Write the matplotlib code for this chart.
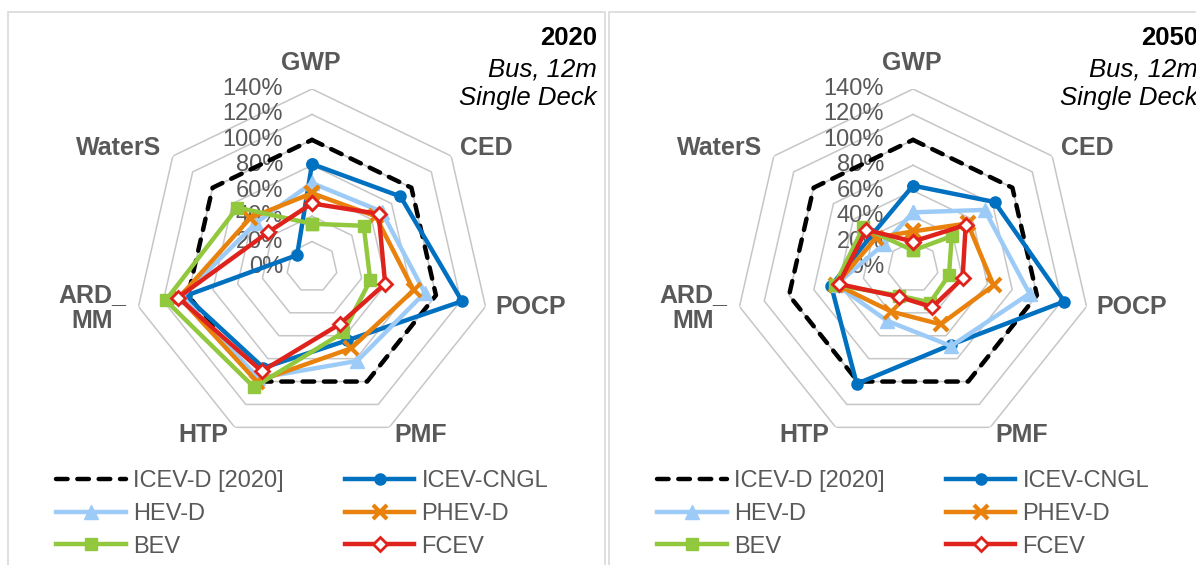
import numpy as np
import matplotlib
matplotlib.use('Agg')
import matplotlib.pyplot as plt
from matplotlib.patches import Rectangle

plt.rcParams['font.family'] = ['Liberation Sans', 'DejaVu Sans']

categories = ['GWP', 'CED', 'POCP', 'PMF', 'HTP', 'ARD_\nMM', 'WaterS']
series_names = ['ICEV-D [2020]', 'ICEV-CNGL', 'HEV-D', 'PHEV-D', 'BEV', 'FCEV']
ring_values = [0.0, 0.2, 0.4, 0.6, 0.8, 1.0, 1.2, 1.4]
ring_labels = ['0%', '20%', '40%', '60%', '80%', '100%', '120%', '140%']

# 2020, relative to ICEV-D [2020]
icev_d_2020 = [1.00, 1.00, 1.00, 1.00, 1.00, 1.00, 1.00]
icev_cngl_2020 = [0.81, 0.89, 1.21, 0.64, 0.88, 1.02, 0.15]
hev_d_2020 = [0.66, 0.70, 0.91, 0.82, 0.97, 1.05, 0.56]
phev_d_2020 = [0.58, 0.64, 0.82, 0.71, 1.00, 1.07, 0.62]
bev_2020 = [0.34, 0.52, 0.47, 0.57, 1.05, 1.18, 0.75]
fcev_2020 = [0.50, 0.67, 0.59, 0.50, 0.91, 1.08, 0.44]

# 2050
icev_d_ref_2050 = [1.00, 1.00, 1.00, 1.00, 1.00, 1.00, 1.00]
icev_cngl_2050 = [0.64, 0.82, 1.22, 0.68, 1.02, 0.66, 0.41]
hev_d_2050 = [0.43, 0.72, 0.94, 0.69, 0.47, 0.62, 0.29]
phev_d_2050 = [0.28, 0.55, 0.65, 0.50, 0.39, 0.62, 0.37]
bev_2050 = [0.13, 0.39, 0.29, 0.31, 0.25, 0.63, 0.50]
fcev_2050 = [0.20, 0.53, 0.40, 0.35, 0.26, 0.60, 0.47]

colors = ['black', '#0070C0', '#9DCBF7', '#E8820C', '#92C83E', '#E0221C']
styles = [
    dict(ls=(0, (2.6, 2.2)), dash_capstyle='round', marker=None),
    dict(marker='o', ms=8),
    dict(marker='^', ms=10),
    dict(marker='x', ms=10, mew=3),
    dict(marker='s', ms=9),
    dict(marker='D', ms=7, mfc='white', mew=2),
]

W, H = 1196, 565
R = 178  # radius of the 140% ring, pixels

# label offsets from the chart centre, pixels
label_offsets = [(-1, 204), (174, 119), (219, -40), (109, -168),
                 (-109, -168), (-220, -41), (-193, 119)]


def draw_panel(fig, cx, cy, data, year, text_right):
    ax = fig.add_axes([(cx - R) / W, (H - cy - R) / H, 2 * R / W, 2 * R / H],
                      projection='polar')
    ax.set_theta_offset(np.pi / 2)
    ax.set_theta_direction(-1)
    ax.set_ylim(0, 1.4)
    ax.grid(False)
    ax.set_xticks([])
    ax.set_yticks([])
    ax.spines['polar'].set_visible(False)
    ax.patch.set_visible(False)

    angles = np.linspace(0, 2 * np.pi, len(categories), endpoint=False)
    closed = np.append(angles, angles[0])

    for r in ring_values[1:]:
        ax.plot(closed, [r] * len(closed), color='#c6c6c6', lw=1.1, zorder=1)

    for r, lab in zip(ring_values, ring_labels):
        ax.annotate(lab, xy=(0, r), xytext=(-29, 0), textcoords='offset pixels',
                    ha='right', va='center', fontsize=17, color='#595959',
                    annotation_clip=False, zorder=2)

    for name, lab in enumerate(categories):
        dx, dy = label_offsets[name]
        ax.annotate(lab, xy=(0, 0), xytext=(dx, dy), textcoords='offset pixels',
                    ha='center', va='center', fontsize=18, fontweight='bold',
                    color='#595959', annotation_clip=False, linespacing=1.15)

    lines = []
    for vals, name, c, st in zip(data, series_names, colors, styles):
        v = list(vals) + [vals[0]]
        ln, = ax.plot(closed, v, color=c, lw=3.2, label=name, zorder=3,
                      clip_on=False, **st)
        lines.append(ln)

    order = [0, 2, 4, 1, 3, 5]
    leg = ax.legend([lines[i] for i in order], [series_names[i] for i in order],
                    ncol=2, loc='upper left',
                    bbox_to_anchor=((cx - 256) / W, (H - 470) / H),
                    bbox_transform=fig.transFigure, frameon=False,
                    fontsize=17, handlelength=2.95, handletextpad=0.3,
                    columnspacing=2.6, labelspacing=0.46, borderpad=0,
                    borderaxespad=0, numpoints=1)
    for t in leg.get_texts():
        t.set_color('#595959')

    fig.text(text_right / W, (H - 38) / H, year, ha='right', va='center',
             fontsize=18.5, fontweight='bold')
    fig.text(text_right / W, (H - 69) / H, 'Bus, 12m', ha='right', va='center',
             fontsize=18.5, style='italic')
    fig.text(text_right / W, (H - 98) / H, 'Single Deck', ha='right',
             va='center', fontsize=18.5, style='italic')


fig = plt.figure(figsize=(W / 100, H / 100), dpi=100)

for x0, x1 in [(8, 605), (609, 1220)]:
    fig.add_artist(Rectangle((x0 / W, -0.1), (x1 - x0) / W, 0.1 + (H - 12) / H,
                             transform=fig.transFigure, fill=False,
                             edgecolor='#d9d9d9', lw=1.2))

draw_panel(fig, 312, 267,
           [icev_d_2020, icev_cngl_2020, hev_d_2020, phev_d_2020, bev_2020, fcev_2020],
           '2020', 597)
draw_panel(fig, 913, 267,
           [icev_d_ref_2050, icev_cngl_2050, hev_d_2050, phev_d_2050, bev_2050, fcev_2050],
           '2050', 1198)

fig.savefig('out.png', dpi=100)
